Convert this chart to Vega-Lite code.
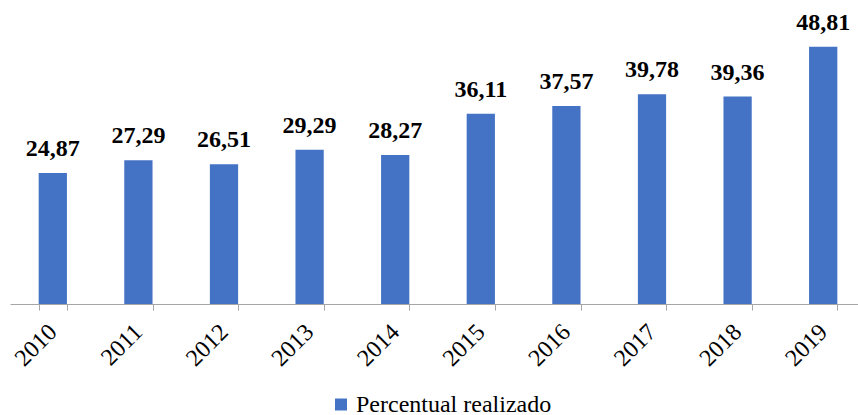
{
  "$schema": "https://vega.github.io/schema/vega-lite/v6.json",
  "autosize": "none",
  "padding": {"left": 10, "top": 40.5, "right": 0, "bottom": 111},
  "width": 848,
  "height": 263.5,
  "background": "white",
  "config": {
    "view": {"stroke": null},
    "font": "Liberation Serif",
    "locale": {"number": {"decimal": ",", "thousands": ".", "grouping": [3], "currency": ["", ""]}}
  },
  "data": {"values": [
    {"ano": "2010", "valor": 24.87, "serie": "Percentual realizado"},
    {"ano": "2011", "valor": 27.29, "serie": "Percentual realizado"},
    {"ano": "2012", "valor": 26.51, "serie": "Percentual realizado"},
    {"ano": "2013", "valor": 29.29, "serie": "Percentual realizado"},
    {"ano": "2014", "valor": 28.27, "serie": "Percentual realizado"},
    {"ano": "2015", "valor": 36.11, "serie": "Percentual realizado"},
    {"ano": "2016", "valor": 37.57, "serie": "Percentual realizado"},
    {"ano": "2017", "valor": 39.78, "serie": "Percentual realizado"},
    {"ano": "2018", "valor": 39.36, "serie": "Percentual realizado"},
    {"ano": "2019", "valor": 48.81, "serie": "Percentual realizado"}
  ]},
  "encoding": {
    "x": {
      "field": "ano", "type": "nominal",
      "scale": {"range": [0, 856], "paddingInner": 0.67, "paddingOuter": 0.335},
      "axis": {
        "title": null, "labelAngle": -45, "labelAlign": "right", "labelBaseline": "middle",
        "labelFontSize": 24, "labelColor": "black",
        "labelFont": "Liberation Serif", "tickBand": "extent", "domainColor": "#A6A6A6",
        "tickColor": "#A6A6A6", "tickSize": 6, "labelPadding": 18, "grid": false
      }
    },
    "y": {
      "field": "valor", "type": "quantitative",
      "scale": {"domain": [0, 50]},
      "axis": null
    }
  },
  "layer": [
    {
      "mark": {"type": "bar"},
      "encoding": {
        "color": {
          "field": "serie", "type": "nominal",
          "scale": {"range": ["#4472C4"]},
          "legend": {
            "title": null, "orient": "none", "legendX": 319, "legendY": 352,
            "direction": "horizontal", "symbolType": "square", "symbolSize": 144,
            "labelFontSize": 24, "labelFont": "Liberation Serif", "labelColor": "black",
            "symbolStrokeWidth": 0, "labelOffset": 3, "labelLimit": 400
          }
        }
      }
    },
    {
      "mark": {"type": "text", "baseline": "alphabetic", "dy": -17, "fontSize": 24, "fontWeight": "bold", "font": "Liberation Serif", "color": "black"},
      "encoding": {
        "text": {"field": "valor", "type": "quantitative", "format": ".2f"}
      }
    }
  ]
}
